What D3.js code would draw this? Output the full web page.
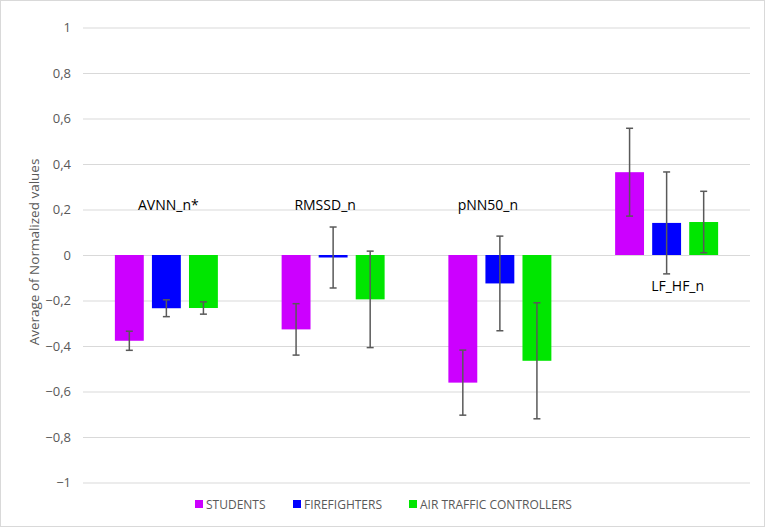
<!DOCTYPE html>
<html>
<head>
<meta charset="utf-8">
<script src="https://cdn.jsdelivr.net/npm/d3@7"></script>
<style>
  body { margin: 0; background: #fff; }
  svg text { font-family: "Open Sans", "Noto Sans", sans-serif; }
</style>
</head>
<body>
<div id="plot"></div>
<script>
const FRAME_WIDTH = 767;
const FRAME_HEIGHT = 528;
const MARGIN = {left: 83, right: 17, top: 27.5, bottom: 45.5};

// data
const categories = ["AVNN_n*", "RMSSD_n", "pNN50_n", "LF_HF_n"];
const groups = ["STUDENTS", "FIREFIGHTERS", "AIR TRAFFIC CONTROLLERS"];
const students = [-0.377, -0.327, -0.561, 0.364];
const firefighters = [-0.234, -0.011, -0.125, 0.141];
const controllers = [-0.233, -0.195, -0.465, 0.145];
const studentsErr = [0.042, 0.113, 0.143, 0.193];
const firefightersErr = [0.037, 0.134, 0.208, 0.224];
const controllersErr = [0.027, 0.212, 0.255, 0.135];
const yTicks = [-1, -0.8, -0.6, -0.4, -0.2, 0, 0.2, 0.4, 0.6, 0.8, 1];
const colors = ["#cc00ff", "#0000ff", "#00e600"];

const values = [students, firefighters, controllers];
const errors = [studentsErr, firefightersErr, controllersErr];

const VIS_WIDTH = FRAME_WIDTH - MARGIN.left - MARGIN.right;
const VIS_HEIGHT = FRAME_HEIGHT - MARGIN.top - MARGIN.bottom;

const FRAME = d3.select("#plot")
  .append("svg")
    .attr("width", FRAME_WIDTH)
    .attr("height", FRAME_HEIGHT);

// chart border
FRAME.append("rect")
  .attr("x", 0.5).attr("y", 0.5)
  .attr("width", FRAME_WIDTH - 3).attr("height", FRAME_HEIGHT - 2)
  .attr("fill", "#fff")
  .attr("stroke", "#d9d9d9");

const X_SCALE = d3.scaleBand()
  .domain(categories)
  .range([MARGIN.left, MARGIN.left + VIS_WIDTH]);

const X_INNER = d3.scaleBand()
  .domain(groups)
  .range([0, 103])
  .paddingInner(0.22);

const Y_SCALE = d3.scaleLinear()
  .domain([-1, 1])
  .range([MARGIN.top + VIS_HEIGHT, MARGIN.top]);

const fmt = d => d3.format(".1f")(d).replace(".", ",").replace(/,0$/, "");

// gridlines + tick labels
const yAxis = FRAME.append("g")
  .attr("transform", "translate(" + MARGIN.left + ",0)")
  .call(d3.axisLeft(Y_SCALE).tickValues(yTicks).tickSize(-VIS_WIDTH).tickFormat(fmt).tickPadding(12));
yAxis.select(".domain").remove();
yAxis.selectAll(".tick line").attr("stroke", "#d9d9d9");
yAxis.selectAll(".tick text")
  .attr("fill", "#595959")
  .attr("font-size", "13px")
  .attr("font-family", "'Open Sans', 'Noto Sans', sans-serif");

// y axis title
FRAME.append("text")
  .attr("transform", "translate(39," + (Y_SCALE(0) - 3) + ") rotate(-90)")
  .attr("text-anchor", "middle")
  .attr("fill", "#595959")
  .attr("font-size", "13.5px")
  .text("Average of Normalized values");

// bars
const groupStart = c => X_SCALE(c) + (X_SCALE.bandwidth() - 103) / 2;

groups.forEach((g, gi) => {
  const layer = FRAME.append("g");
  layer.selectAll("rect")
    .data(values[gi])
    .enter()
    .append("rect")
      .attr("x", (d, i) => groupStart(categories[i]) + X_INNER(g))
      .attr("y", d => Y_SCALE(Math.max(0, d)))
      .attr("width", X_INNER.bandwidth())
      .attr("height", d => Math.abs(Y_SCALE(d) - Y_SCALE(0)))
      .attr("fill", colors[gi]);

  // error bars
  const eb = layer.selectAll("g.err")
    .data(values[gi].map((v, i) => ({v: v, e: errors[gi][i], c: categories[i]})))
    .enter()
    .append("g")
      .attr("class", "err")
      .attr("stroke", "#595959")
      .attr("stroke-width", 1.5);
  const cx = d => groupStart(d.c) + X_INNER(g) + X_INNER.bandwidth() / 2;
  eb.append("line")
    .attr("x1", cx).attr("x2", cx)
    .attr("y1", d => Y_SCALE(d.v + d.e)).attr("y2", d => Y_SCALE(d.v - d.e));
  eb.append("line")
    .attr("x1", d => cx(d) - 3.5).attr("x2", d => cx(d) + 3.5)
    .attr("y1", d => Y_SCALE(d.v + d.e)).attr("y2", d => Y_SCALE(d.v + d.e));
  eb.append("line")
    .attr("x1", d => cx(d) - 3.5).attr("x2", d => cx(d) + 3.5)
    .attr("y1", d => Y_SCALE(d.v - d.e)).attr("y2", d => Y_SCALE(d.v - d.e));
});

// category labels
const labelDx = [2, -8, -12, 11];
const labelY = [0.2, 0.2, 0.2, -0.16];
FRAME.selectAll("text.cat")
  .data(categories)
  .enter()
  .append("text")
    .attr("class", "cat")
    .attr("x", (d, i) => X_SCALE(d) + X_SCALE.bandwidth() / 2 + labelDx[i])
    .attr("y", (d, i) => Y_SCALE(labelY[i]))
    .attr("text-anchor", "middle")
    .attr("fill", "#000")
    .attr("font-size", "14px")
    .text(d => d);

// legend
const legendX = [195, 293, 409];
const legend = FRAME.selectAll("g.legend")
  .data(groups)
  .enter()
  .append("g")
    .attr("class", "legend")
    .attr("transform", (d, i) => "translate(" + legendX[i] + ",500)");
legend.append("rect")
  .attr("width", 8).attr("height", 8)
  .attr("fill", (d, i) => colors[i]);
legend.append("text")
  .attr("x", 11).attr("y", 8.5)
  .attr("fill", "#595959")
  .attr("font-size", "12px")
  .text(d => d);
</script>
</body>
</html>
